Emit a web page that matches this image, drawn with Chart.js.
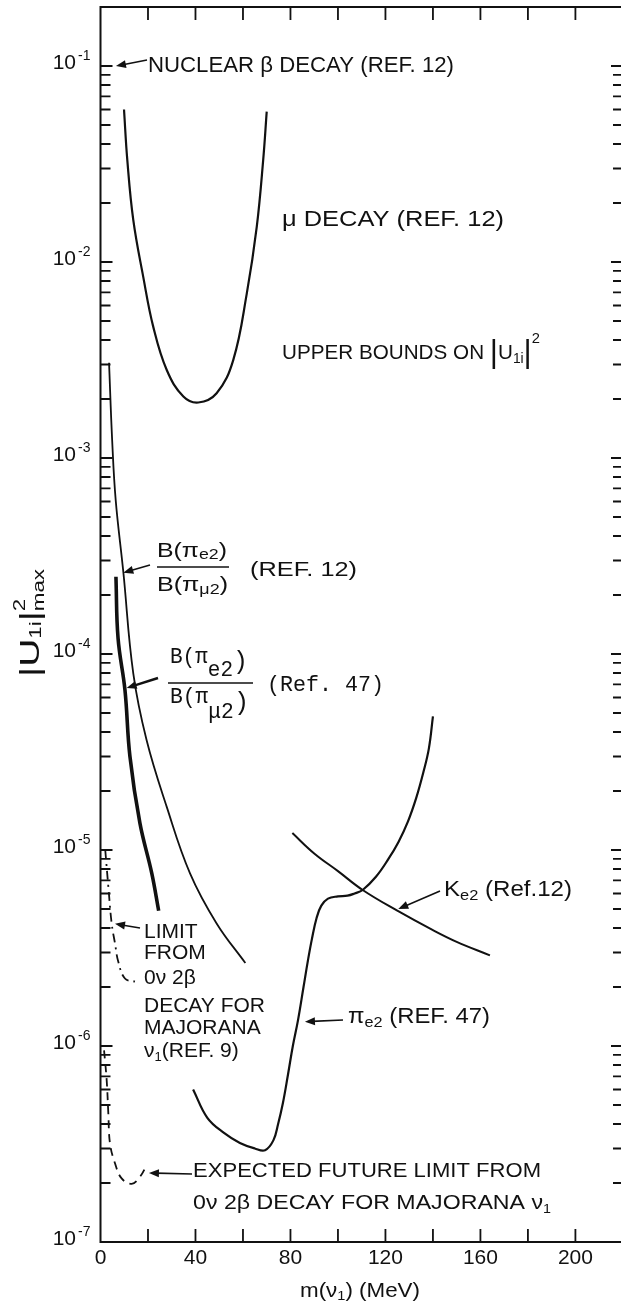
<!DOCTYPE html>
<html>
  <head>
    <title>Upper bounds on |U1i|^2</title>
    <script src="https://cdn.jsdelivr.net/npm/chart.js"></script>
    <style>
      html, body { margin: 0; padding: 0; background: #fff; }
      #wrap { width: 621px; height: 1305px; position: relative; }
    </style>
  </head>
  <body>
    <div id="wrap"><canvas id="bounds-chart"></canvas></div>

    <script>
      // x = m(nu1) in MeV, y = |U1i|^2 upper bound (log scale)
      const massTicks = [0, 40, 80, 120, 160, 200]
      const decadeExponents = [-1, -2, -3, -4, -5, -6, -7]

      // mu decay (Ref. 12)
      const muDecayMass = [9.9, 11.3, 13.8, 18.0, 22.2, 27.9, 34.9, 41.2, 48.9, 55.9, 61.6, 65.8, 68.5, 70.0]
      const muDecayBound = [6.0e-2, 3.3e-2, 1.64e-2, 8.4e-3, 4.68e-3, 2.81e-3, 2.06e-3, 1.92e-3, 2.14e-3, 3.16e-3, 6.9e-3, 1.51e-2, 3.3e-2, 5.85e-2]

      // B(pi e2)/B(pi mu2) (Ref. 12)
      const ratio12Mass = [3.6, 4.9, 6.4, 9.6, 13.8, 19.4, 27.9, 37.7, 48.9, 61.0]
      const ratio12Bound = [3.06e-3, 1.24e-3, 6.1e-4, 2.63e-4, 7.96e-5, 3.64e-5, 1.66e-5, 7.6e-6, 4.22e-6, 2.65e-6]

      // B(pi e2)/B(pi mu2) (Ref. 47)
      const ratio47Mass = [6.5, 7.4, 10.3, 12.4, 16.6, 21.6, 24.5]
      const ratio47Bound = [2.48e-4, 1.2e-4, 6.55e-5, 3.0e-5, 1.37e-5, 7.6e-6, 4.9e-6]

      // 0nu 2beta decay limit (Ref. 9)
      const doubleBetaMass = [2.0, 3.3, 4.7, 6.1, 7.5, 10.3, 14.5]
      const doubleBetaBound = [1.0e-5, 6.5e-6, 4.22e-6, 3.34e-6, 2.69e-6, 2.21e-6, 2.13e-6]

      // expected future 0nu 2beta limit
      const futureMass = [1.5, 2.6, 3.3, 4.0, 6.1, 8.9, 13.1, 16.6, 19.5]
      const futureBound = [9.5e-7, 6.7e-7, 4.53e-7, 3.18e-7, 2.52e-7, 2.11e-7, 1.98e-7, 2.15e-7, 2.47e-7]

      // pi e2 (Ref. 47)
      const pionE2Mass = [39, 45, 52, 58.7, 65, 69.3, 72.8, 74.8, 76.8, 79, 81, 83.2, 85.5, 87.4, 89, 91, 93, 95.8, 100, 104, 107, 110.4, 116, 121, 125.5, 129.5, 133, 136, 138.3, 140]
      const pionE2Bound = [6.0e-7, 4.3e-7, 3.6e-7, 3.2e-7, 3.0e-7, 2.94e-7, 3.3e-7, 4.0e-7, 5.1e-7, 7.2e-7, 1.0e-6, 1.36e-6, 2.0e-6, 2.75e-6, 3.5e-6, 4.5e-6, 5.2e-6, 5.65e-6, 5.8e-6, 5.85e-6, 6.0e-6, 6.25e-6, 7.3e-6, 8.9e-6, 1.1e-5, 1.4e-5, 1.85e-5, 2.5e-5, 3.3e-5, 4.8e-5]

      // K e2 (Ref. 12)
      const kaonMass = [80.8, 90, 100, 110.4, 125, 140, 150, 164]
      const kaonBound = [1.22e-5, 9.6e-6, 7.8e-6, 6.25e-6, 4.9e-6, 3.9e-6, 3.4e-6, 2.9e-6]

      const ink = '#111'
      const sans = '"Liberation Sans", Arial, sans-serif'
      const mono = '"Liberation Mono", "Courier New", monospace'

      const toPoints = (xs, ys) => xs.map((m, i) => ({ x: m, y: ys[i] }))

      const curve = (xs, ys, width, dash) => ({
        data: toPoints(xs, ys),
        borderColor: ink,
        borderWidth: width,
        borderDash: dash || [],
        pointRadius: 0,
        fill: false,
        tension: 0.4
      })

      // draws a row of text pieces (sub/superscripts), optionally stretched to a width
      const drawRuns = (ctx, runs, x, y, width) => {
        let natural = 0
        runs.forEach(r => {
          ctx.font = `${r.size}px ${r.family || sans}`
          r.w = ctx.measureText(r.t).width
          if (!r.keep) natural += r.w
        })
        const sx = width ? width / natural : 1
        ctx.save()
        ctx.translate(x, y)
        ctx.scale(sx, 1)
        ctx.textBaseline = 'middle'
        ctx.textAlign = 'left'
        let cx = 0
        runs.forEach(r => {
          ctx.font = `${r.size}px ${r.family || sans}`
          ctx.fillText(r.t, cx, r.dy || 0)
          if (!r.keep) cx += r.w
        })
        ctx.restore()
      }

      const arrow = (ctx, x0, y0, x1, y1, w) => {
        const ang = Math.atan2(y1 - y0, x1 - x0)
        const hl = 10, hw = 4
        const c = Math.cos(ang), s = Math.sin(ang)
        ctx.lineWidth = w || 1.6
        ctx.beginPath()
        ctx.moveTo(x0, y0)
        ctx.lineTo(x1 - hl * 0.7 * c, y1 - hl * 0.7 * s)
        ctx.stroke()
        ctx.beginPath()
        ctx.moveTo(x1, y1)
        ctx.lineTo(x1 - hl * c + hw * s, y1 - hl * s - hw * c)
        ctx.lineTo(x1 - hl * c - hw * s, y1 - hl * s + hw * c)
        ctx.closePath()
        ctx.fill()
      }

      const framePlugin = {
        id: 'frame',
        afterDatasetsDraw(chart) {
          const { ctx, chartArea: a } = chart
          const xs = chart.scales.x
          const ys = chart.scales.y
          ctx.save()
          ctx.strokeStyle = ink
          ctx.fillStyle = ink

          // axes: left, top and bottom (right side is cut off)
          ctx.lineWidth = 2
          ctx.beginPath()
          ctx.moveTo(a.right + 2, a.top)
          ctx.lineTo(a.left, a.top)
          ctx.lineTo(a.left, a.bottom)
          ctx.lineTo(a.right + 2, a.bottom)
          ctx.stroke()

          // mass ticks every 20 MeV, inward, top and bottom
          ctx.lineWidth = 1.8
          for (let m = 20; m <= 200; m += 20) {
            const px = xs.getPixelForValue(m)
            ctx.beginPath()
            ctx.moveTo(px, a.top)
            ctx.lineTo(px, a.top + 13)
            ctx.moveTo(px, a.bottom)
            ctx.lineTo(px, a.bottom - 13)
            ctx.stroke()
          }

          // log ticks, inward, left and right
          decadeExponents.forEach(e => {
            for (let k = 1; k <= 9; k++) {
              const v = k * Math.pow(10, e)
              if (v > ys.max * 0.999 || v < ys.min) continue
              const py = ys.getPixelForValue(v)
              const len = k === 1 ? 12 : 10
              ctx.beginPath()
              ctx.moveTo(a.left, py)
              ctx.lineTo(a.left + len, py)
              ctx.moveTo(a.right + 2, py)
              ctx.lineTo(a.right + 2 - len, py)
              ctx.stroke()
            }
          })

          // tick labels
          ctx.textBaseline = 'middle'
          massTicks.forEach(m => {
            ctx.font = `21px ${sans}`
            ctx.textAlign = 'center'
            ctx.fillText(String(m), xs.getPixelForValue(m), a.bottom + 16)
          })
          decadeExponents.forEach(e => {
            const py = ys.getPixelForValue(Math.pow(10, e))
            ctx.textAlign = 'right'
            ctx.font = `21px ${sans}`
            ctx.fillText('10', 76, py - 3)
            ctx.textAlign = 'left'
            ctx.font = `14px ${sans}`
            ctx.fillText('-' + Math.abs(e), 78, py - 10)
          })

          // axis titles
          drawRuns(ctx, [
            { t: 'm(ν', size: 20 },
            { t: '1', size: 13, dy: 5 },
            { t: ') (MeV)', size: 20 }
          ], 300, 1291, 120)

          ctx.save()
          ctx.translate(31, 677)
          ctx.rotate(-Math.PI / 2)
          drawRuns(ctx, [
            { t: '|U', size: 28 },
            { t: '1i', size: 16, dy: 6 },
            { t: '|', size: 28 },
            { t: '2', size: 16, dy: -10, keep: true },
            { t: 'max', size: 16, dy: 9 }
          ], 0, 0, 108)
          ctx.restore()

          // annotations
          const at = (m, b) => [xs.getPixelForValue(m), ys.getPixelForValue(b)]
          let tip

          drawRuns(ctx, [{ t: 'NUCLEAR β DECAY (REF. 12)', size: 22 }], 148, 66, 306)
          tip = at(6.5, 0.1)
          arrow(ctx, 147, 60, tip[0], tip[1])

          drawRuns(ctx, [{ t: 'μ DECAY (REF. 12)', size: 22 }], 282, 220, 222)

          drawRuns(ctx, [
            { t: 'UPPER BOUNDS ON ', size: 21 },
            { t: '|', size: 32 },
            { t: 'U', size: 21 },
            { t: '1i', size: 14, dy: 6 },
            { t: '|', size: 32 },
            { t: '2', size: 15, dy: -14 }
          ], 282, 353, 258)

          // B(pi e2)/B(pi mu2) (REF. 12)
          drawRuns(ctx, [
            { t: 'B(π', size: 21 },
            { t: 'e2', size: 15, dy: 4 },
            { t: ')', size: 21 }
          ], 157, 551, 70)
          ctx.lineWidth = 1.5
          ctx.beginPath()
          ctx.moveTo(157, 567)
          ctx.lineTo(229, 567)
          ctx.stroke()
          drawRuns(ctx, [
            { t: 'B(π', size: 21 },
            { t: 'μ2', size: 15, dy: 5 },
            { t: ')', size: 21 }
          ], 157, 585, 71)
          drawRuns(ctx, [{ t: '(REF. 12)', size: 21 }], 250, 570, 107)
          tip = at(9.6, 2.6e-4)
          arrow(ctx, 150, 565, tip[0], tip[1])

          // B(pi e2)/B(pi mu2) (Ref. 47), typewriter lettering
          drawRuns(ctx, [
            { t: 'B(π', size: 22, family: mono },
            { t: 'e2', size: 22, family: mono, dy: 13 },
            { t: ')', size: 26, family: mono, dy: 5 }
          ], 170, 657, 78)
          ctx.lineWidth = 1.5
          ctx.beginPath()
          ctx.moveTo(168, 683)
          ctx.lineTo(253, 683)
          ctx.stroke()
          drawRuns(ctx, [
            { t: 'B(π', size: 22, family: mono },
            { t: 'μ2', size: 22, family: mono, dy: 15 },
            { t: ')', size: 26, family: mono, dy: 6 }
          ], 170, 697, 79)
          drawRuns(ctx, [{ t: '(Ref. 47)', size: 22, family: mono }], 267, 685, 117)
          tip = at(11.0, 6.7e-5)
          arrow(ctx, 158, 678, tip[0], tip[1], 2.4)

          // 0nu 2beta limit (REF. 9)
          const limitLines = [
            [[{ t: 'LIMIT', size: 21 }], 932],
            [[{ t: 'FROM', size: 21 }], 953],
            [[{ t: '0ν 2β', size: 21 }], 978],
            [[{ t: 'DECAY FOR', size: 21 }], 1006],
            [[{ t: 'MAJORANA', size: 21 }], 1028],
            [[{ t: 'ν', size: 21 }, { t: '1', size: 13, dy: 6 }, { t: '(REF. 9)', size: 21 }], 1051]
          ]
          limitLines.forEach(([runs, y]) => drawRuns(ctx, runs, 144, y))
          tip = at(6.1, 4.2e-6)
          arrow(ctx, 140, 928, tip[0], tip[1])

          // pi e2 (REF. 47)
          drawRuns(ctx, [
            { t: 'π', size: 22 },
            { t: 'e2', size: 15, dy: 6 },
            { t: ' (REF. 47)', size: 22 }
          ], 348, 1017, 142)
          tip = at(86.1, 1.33e-6)
          arrow(ctx, 343, 1020, tip[0], tip[1])

          // K e2 (Ref.12)
          drawRuns(ctx, [
            { t: 'K', size: 22 },
            { t: 'e2', size: 15, dy: 6 },
            { t: ' (Ref.12)', size: 22 }
          ], 444, 890, 128)
          tip = at(125.4, 5.0e-6)
          arrow(ctx, 440, 891, tip[0], tip[1])

          // expected future limit
          drawRuns(ctx, [{ t: 'EXPECTED FUTURE LIMIT FROM', size: 21 }], 193, 1171, 348)
          drawRuns(ctx, [
            { t: '0ν 2β DECAY FOR MAJORANA ν', size: 21 },
            { t: '1', size: 13, dy: 6 }
          ], 193, 1203, 358)
          tip = at(20.4, 2.25e-7)
          arrow(ctx, 192, 1174, tip[0], tip[1])

          ctx.restore()
        }
      }

      new Chart(document.getElementById('bounds-chart'), {
        type: 'line',
        data: {
          datasets: [
            curve(muDecayMass, muDecayBound, 2.2),
            curve(ratio12Mass, ratio12Bound, 1.8),
            curve(ratio47Mass, ratio47Bound, 3.6),
            curve(doubleBetaMass, doubleBetaBound, 1.8, [9, 5, 2, 5]),
            curve(futureMass, futureBound, 1.8, [8, 6]),
            curve(pionE2Mass, pionE2Bound, 2.2),
            curve(kaonMass, kaonBound, 2)
          ]
        },
        options: {
          responsive: true,
          maintainAspectRatio: false,
          animation: false,
          layout: { padding: { left: 100.5, right: 0, top: 7, bottom: 63 } },
          scales: {
            x: { type: 'linear', min: 0, max: 219.2, display: false },
            y: { type: 'logarithmic', min: 1e-7, max: 0.2, display: false }
          },
          plugins: {
            legend: { display: false },
            tooltip: { enabled: false }
          }
        },
        plugins: [framePlugin]
      })
    </script>
  </body>
</html>
